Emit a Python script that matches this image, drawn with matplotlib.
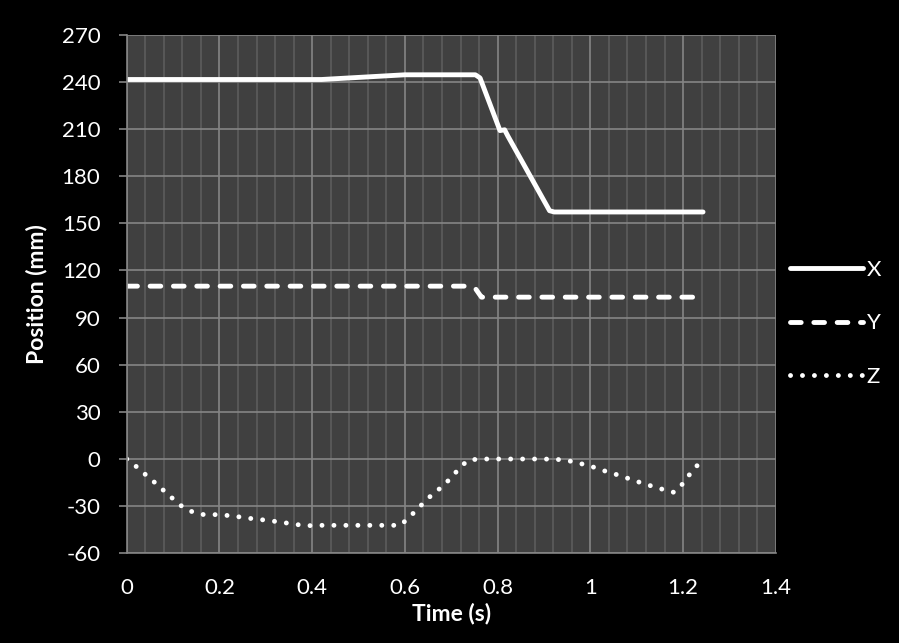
import matplotlib
matplotlib.use("Agg")
import matplotlib.pyplot as plt
from matplotlib.ticker import MultipleLocator

plt.rcParams['font.family'] = ['Lato', 'DejaVu Sans']
plt.rcParams['axes.unicode_minus'] = False

# X position (mm) vs time (s)
tx = [0, 0.42, 0.6, 0.752, 0.762, 0.805, 0.815, 0.822, 0.912, 0.922, 1.243]
px = [241.5, 241.5, 244.5, 244.5, 242.5, 209, 209.5, 205.5, 158, 157.2, 157.2]

# Y position
ty = [0, 0.735, 0.752, 0.765, 1.243]
py = [110, 110, 108.5, 103, 103]

# Z position
tz = [0, 0.021, 0.04, 0.059, 0.078, 0.097, 0.116, 0.137, 0.16, 0.185, 0.21, 0.235,
      0.26, 0.285, 0.31, 0.335, 0.36, 0.386, 0.41, 0.45, 0.5, 0.55, 0.59, 0.609,
      0.627, 0.645, 0.663, 0.683, 0.7, 0.717, 0.735, 0.76, 0.8, 0.85, 0.9, 0.93,
      0.96, 1.0, 1.036, 1.06, 1.083, 1.107, 1.132, 1.156, 1.18, 1.198, 1.213, 1.229, 1.243]
pz = [0, -4.9, -9.8, -14.6, -19.6, -24.6, -29.5, -33.1, -35.3, -35.3, -35.7, -36.5,
      -37.6, -38.4, -39.3, -40.3, -41.4, -42.5, -42.2, -42.2, -42.2, -42.2, -42.2, -37.2,
      -31.8, -26.5, -21.4, -17.2, -11.5, -6.2, -0.8, 0, 0, 0, 0, -0.3,
      -1.5, -4.5, -8.1, -10.2, -12.5, -14.9, -17.2, -19.3, -21.2, -16.1, -10.2, -4.5, -1.5]

fig = plt.figure(figsize=(8.99, 6.43), dpi=100, facecolor='black')
ax = fig.add_axes([0.141, 0.1395, 0.722, 0.8065])
ax.set_facecolor('#404040')

lw = 3.5
ax.plot(tx, px, color='white', lw=lw, solid_capstyle='round', solid_joinstyle='round', label='X')
ax.plot(ty, py, color='white', lw=lw, ls=(0, (2.2, 2.6)), dash_capstyle='round', label='Y')
ax.plot(tz, pz, color='white', lw=lw, ls=(0, (0.01, 2.45)), dash_capstyle='round', label='Z')

ax.set_xlim(0, 1.4)
ax.set_ylim(-60, 270)
ax.xaxis.set_minor_locator(MultipleLocator(0.04))
ax.yaxis.set_major_locator(MultipleLocator(30))
ax.set_xticks([0, 0.2, 0.4, 0.6, 0.8, 1.0, 1.2, 1.4])
ax.set_xticklabels(['0', '0.2', '0.4', '0.6', '0.8', '1', '1.2', '1.4'])

ax.grid(which='major', color='#858585', lw=1.2)
ax.grid(which='minor', axis='x', color='#5c5c5c', lw=1.2)
ax.set_axisbelow(True)

for s in ['top', 'right']:
    ax.spines[s].set_visible(False)
for s in ['left', 'bottom']:
    ax.spines[s].set_color('#858585')
    ax.spines[s].set_linewidth(1.2)

ax.tick_params(axis='y', colors='#858585', labelcolor='white', length=6, width=1.2,
               pad=13, labelsize=16)
ax.tick_params(axis='x', which='both', length=0, pad=18, labelcolor='white', labelsize=16)

ax.set_xlabel('Time (s)', color='white', fontsize=16.5, fontweight='bold', labelpad=3)
ax.set_ylabel('Position (mm)', color='white', fontsize=16.5, fontweight='bold', labelpad=10)

leg = fig.legend(loc='center left', bbox_to_anchor=(790 / 899, 0.497), frameon=False,
                 fontsize=16, handlelength=3.3, handletextpad=0.15, labelspacing=1.5,
                 borderpad=0, borderaxespad=0)
for t in leg.get_texts():
    t.set_color('white')

fig.savefig('out.png', dpi=100, facecolor='black')
